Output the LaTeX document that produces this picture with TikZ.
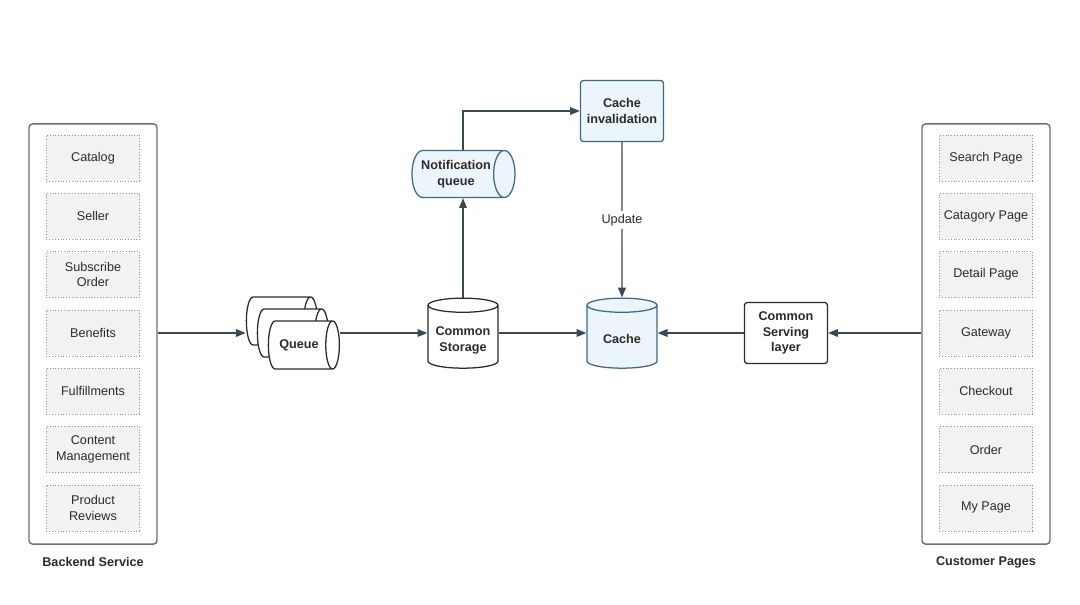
\documentclass[tikz,border=0pt]{standalone}
\usepackage{fontspec}
\setmainfont{Liberation Sans}
\usetikzlibrary{shapes.geometric,arrows.meta}
\definecolor{linec}{HTML}{3B4954}
\definecolor{framec}{HTML}{6E6E6E}
\definecolor{dotc}{HTML}{8F959A}
\definecolor{itemc}{HTML}{F0F2F4}
\definecolor{bluec}{HTML}{3D6A84}
\definecolor{bluefill}{HTML}{ECF5FA}
\definecolor{textc}{HTML}{2B2B2B}
% text of the upright drums sits a bit below the middle
\newcommand{\lowtext}[1]{\raisebox{-4pt}[0pt][0pt]{\begin{tabular}{@{}c@{}}#1\end{tabular}}}
\tikzset{
  arr/.style={draw=linec, line width=0.9pt, -{Triangle[length=7pt,width=5.5pt]}},
  group/.style={draw=framec, rounded corners=2.5pt, line width=1pt, minimum width=3.2cm, minimum height=10.5cm},
  item/.style={draw=dotc, dash pattern=on 0.7pt off 1.3pt, fill=itemc, minimum width=2.325cm, minimum height=1.15cm, align=center, text=textc, inner sep=1pt},
  title/.style={font=\fontsize{9}{11}\selectfont\bfseries, text=textc},
  drum/.style={cylinder, shape border rotate=90, aspect=0.24, draw=textc, line width=0.9pt, fill=white, minimum width=1.75cm, minimum height=1.75cm, text width=1.4cm, align=center, font=\fontsize{9}{11}\selectfont\bfseries, text=textc, inner sep=1pt},
  pipe/.style={cylinder, draw=textc, line width=0.9pt, fill=white, align=center, font=\fontsize{9}{11}\selectfont\bfseries, text=textc, inner sep=1pt},
  queue/.style={pipe, aspect=0.88, text height=7pt, text depth=2pt, minimum width=1.2cm, minimum height=1.775cm},
  proc/.style={rectangle, rounded corners=2pt, draw=textc, line width=0.9pt, fill=white, minimum width=2.075cm, minimum height=1.525cm, align=center, font=\fontsize{9}{11}\selectfont\bfseries, text=textc, inner sep=1pt},
  blue/.style={draw=bluec, fill=bluefill}
}
\begin{document}
\begin{tikzpicture}[x=0.025cm, y=-0.025cm, font=\fontsize{9}{11}\selectfont]
  \useasboundingbox (0,0) rectangle (1080,605);
  % side groups
  \node[group] (bs) at (93,334) {};
  \node[group] (cp) at (986,334) {};
  \node[title] (bsl) at (93,562) {Backend Service};
  \node[title] (cpl) at (986,562) {Customer Pages};
  \foreach \i/\txt in {0/Catalog, 1/Seller, 2/{Subscribe\\Order}, 3/Benefits,
      4/Fulfillments, 5/{Content\\Management}, 6/{Product\\Reviews}}
    \node[item] (b\i) at (93,158+58.3*\i) {\txt};
  \foreach \i/\txt in {0/Search Page, 1/Catagory Page, 2/Detail Page, 3/Gateway,
      4/Checkout, 5/Order, 6/My Page}
    \node[item] (p\i) at (986,158+58.3*\i) {\txt};
  % queue stack
  \node[queue] (q1) at (277,321) {};
  \node[queue] (q2) at (288,333) {};
  \node[queue] (q3) at (299,345) {Queue};
  % middle part
  \node[drum] (cs) at (463,338) {\lowtext{Common\\Storage}};
  \node[drum, blue] (ca) at (622,338) {\lowtext{Cache}};
  \node[pipe, blue, aspect=0.71, minimum width=1.175cm, minimum height=2.575cm] (nq) at (456,174) {Notification\\queue};
  \node[proc, blue] (ci) at (622,111) {Cache\\invalidation};
  \node[proc] (sv) at (786,333) {Common\\Serving\\layer};
  % connectors
  \draw[arr] (bs.east |- q2) -- (q1.west |- q2);
  \draw[arr] (q3.east |- q2) -- (cs.west |- q2);
  \draw[arr] (cs.north) -- (cs.north |- nq.south);
  \draw[arr] (cs.north |- nq.north) |- (ci.west);
  \draw[arr] (ci.south) -- node[fill=white, text=textc, inner sep=2pt] {Update} (ca.north);
  \draw[arr] (cs.east |- q2) -- (ca.west |- q2);
  \draw[arr] (cp.west |- sv) -- (sv.east);
  \draw[arr] (sv.west) -- (ca.east |- sv);
\end{tikzpicture}
\end{document}
